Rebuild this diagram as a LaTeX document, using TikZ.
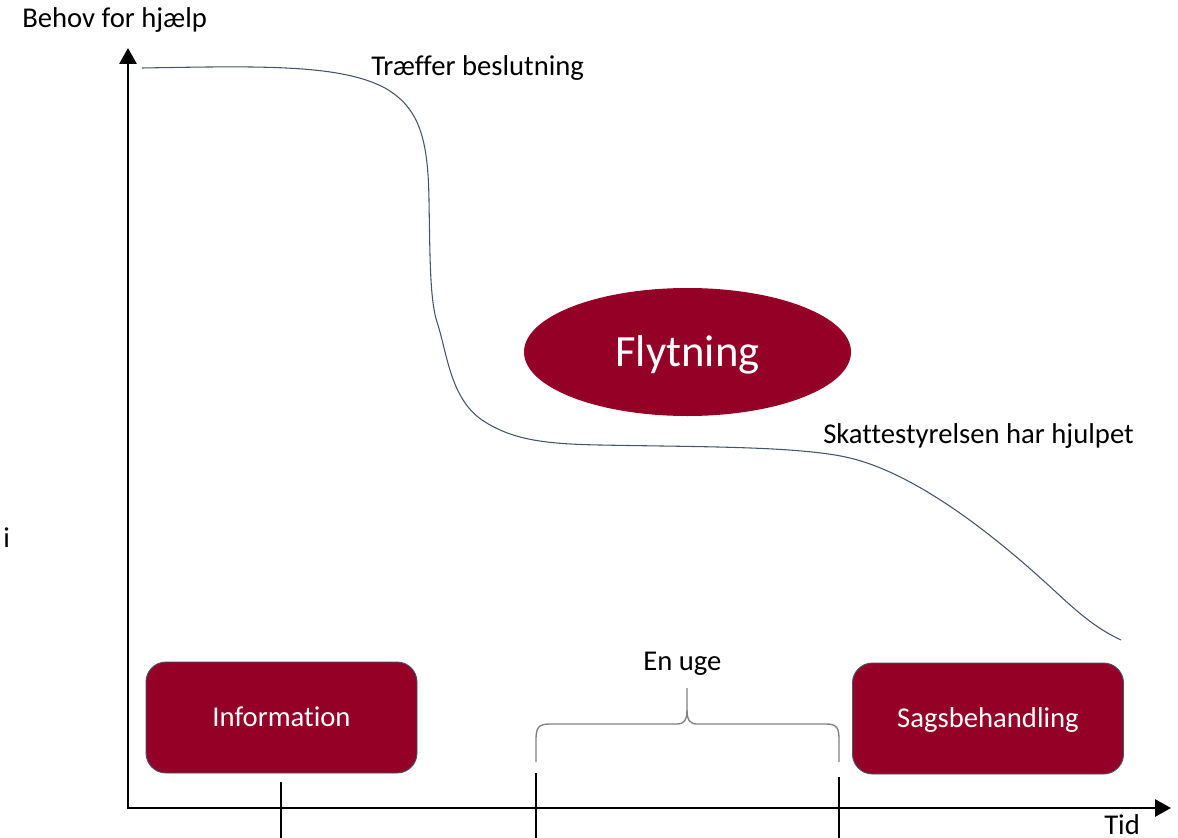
\documentclass[tikz,border=0pt]{standalone}
\usepackage{fontspec}
\setmainfont{Carlito}[Ligatures=NoCommon]
\usetikzlibrary{shapes.geometric,arrows.meta}
\definecolor{wine}{HTML}{950027}
\definecolor{slate}{HTML}{44546A}
\definecolor{bracegray}{HTML}{808080}
\tikzset{
  label text/.style={anchor=base west, inner sep=0pt, font=\fontsize{21.5}{26}\selectfont},
  axis/.style={line width=2.2pt, -{Triangle[length=16*0.75pt, width=17*0.75pt]}},
  phase box/.style={draw=slate, line width=0.7pt, fill=wine, text=white,
    rounded corners=20*0.75pt, minimum width=271*0.75pt, minimum height=111*0.75pt,
    inner sep=0pt, text height=13.8pt, text depth=0pt,
    font=\fontsize{21.5}{26}\selectfont},
  event/.style={ellipse, fill=wine, text=white, minimum width=327*0.75pt,
    minimum height=128*0.75pt, inner sep=0pt, text height=21.5pt, text depth=0pt,
    font=\fontsize{33.5}{40}\selectfont},
  need curve/.style={draw=slate, line width=0.8pt},
  brace line/.style={draw=bracegray, line width=1pt},
  tick line/.style={draw=black, line width=0.8pt},
}
\begin{document}
\begin{tikzpicture}[x=0.75pt, y=-0.75pt]
  \useasboundingbox (0,0) rectangle (1178,838);

  % axes
  \coordinate (origin) at (128,808);
  \coordinate (ytop) at (128,48);
  \coordinate (xend) at (1171,808);
  \draw[axis] (origin |- 0,809) -- (ytop);
  \draw[axis] (127,808) -- (xend);

  % axis and curve labels
  \node[label text] (need) at (22,28) {Behov for hjælp};
  \node[label text] (time) at (1104,834) {Tid};
  \node[label text] (stray) at (3,547) {i};
  \node[label text] (decide) at (371,76) {Træffer beslutning};
  \node[label text] (helped) at (823,443) {Skattestyrelsen har hjulpet};
  \node[label text] (week) at (643,670) {En uge};

  % need-for-help curve
  \draw[need curve] (142,68)
    .. controls (260,66) and (340,64) .. (385,88)
    .. controls (420,108) and (428,140) .. (429,200)
    .. controls (430,260) and (430,300) .. (437,322)
    .. controls (447,352) and (450,398) .. (482,420)
    .. controls (512,440) and (545,444) .. (600,445)
    .. controls (700,447) and (800,446) .. (850,458)
    .. controls (920,475) and (1000,540) .. (1058,594)
    .. controls (1085,619) and (1100,630) .. (1121,640);

  % central event
  \node[event] (move) at (687.5,352) {Flytning};

  % phases
  \node[phase box] (info) at (281.5,717.5) {Information};
  \node[phase box] (case) at (988,718.5) {Sagsbehandling};

  % brace spanning one week
  \draw[brace line] (536,762) -- (536,740)
    .. controls (536,728) and (538,724) .. (550,724) -- (677,724)
    .. controls (684,724) and (687,720) .. (687,710) -- (687,688);
  \draw[brace line] (687,710)
    .. controls (687,720) and (690,724) .. (697,724) -- (826,724)
    .. controls (837,724) and (839,728) .. (839,740) -- (839,762);

  % time markers
  \coordinate (m1top) at (281,782);
  \coordinate (m2top) at (536,773);
  \coordinate (m3top) at (839,777);
  \draw[tick line] (m1top) -- (m1top |- 0,838);
  \draw[tick line] (m2top) -- (m2top |- 0,838);
  \draw[tick line] (m3top) -- (m3top |- 0,838);
\end{tikzpicture}
\end{document}
